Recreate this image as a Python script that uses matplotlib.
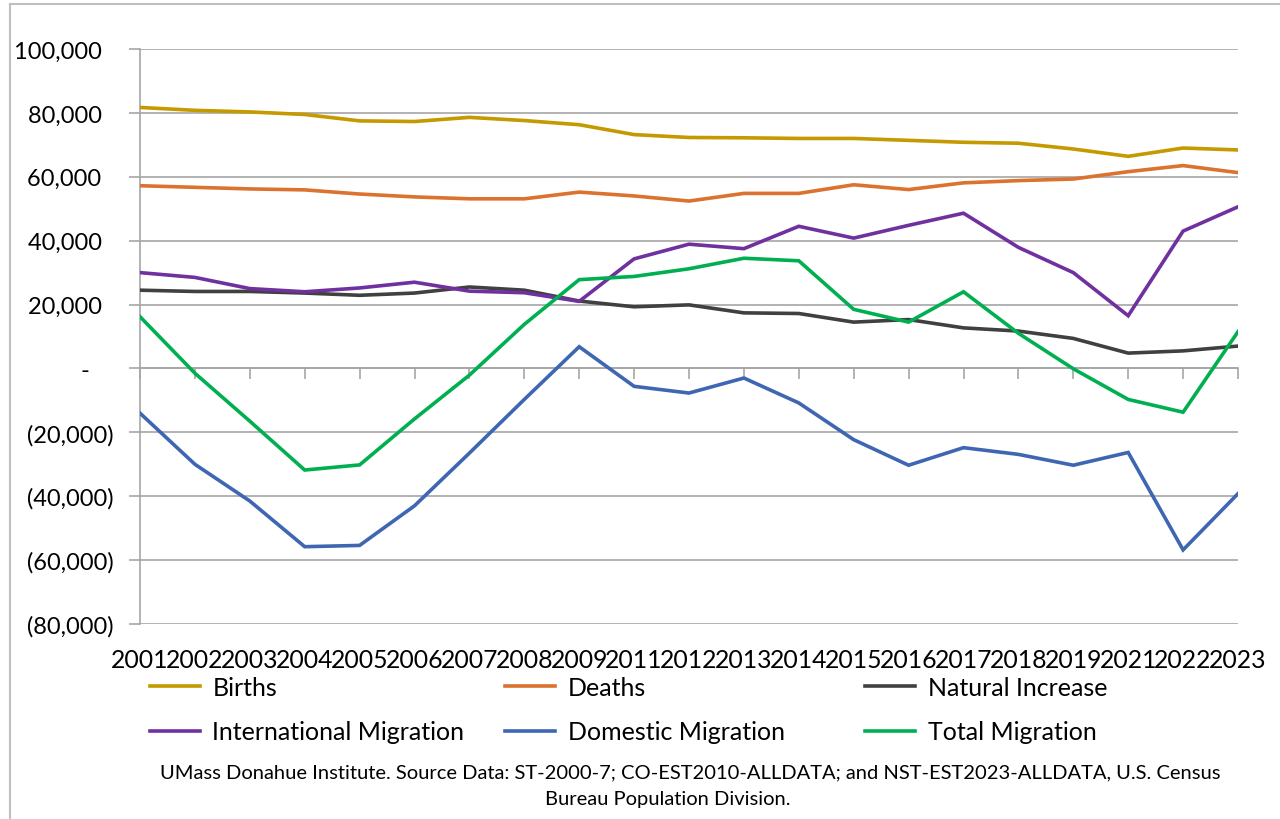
import matplotlib
matplotlib.use("Agg")
import matplotlib.pyplot as plt
from matplotlib.lines import Line2D
from matplotlib.ticker import FuncFormatter, FixedLocator

plt.rcParams['font.family'] = ['Lato', 'DejaVu Sans']

years = ["2001", "2002", "2003", "2004", "2005", "2006", "2007", "2008", "2009", "2011",
         "2012", "2013", "2014", "2015", "2016", "2017", "2018", "2019", "2021", "2022", "2023"]

births = [81700, 80800, 80300, 79500, 77500, 77300, 78600, 77600, 76300, 73200,
          72300, 72200, 72000, 72000, 71400, 70800, 70500, 68700, 66400, 69000, 68400]
deaths = [57200, 56700, 56200, 55900, 54600, 53700, 53100, 53100, 55200, 54000,
          52400, 54800, 54800, 57500, 56000, 58100, 58800, 59300, 61600, 63500, 61300]
natural_increase = [24500, 24100, 24100, 23600, 22900, 23600, 25500, 24500, 21100, 19300,
                    19900, 17400, 17200, 14500, 15300, 12700, 11700, 9400, 4800, 5500, 7000]
international = [30000, 28500, 25000, 24000, 25200, 27000, 24200, 23700, 21000, 34300,
                 38900, 37500, 44500, 40800, 44800, 48600, 37900, 30000, 16500, 43000, 50600]
domestic = [-14000, -30000, -41500, -55800, -55400, -43000, -26500, -9700, 6800, -5600,
            -7700, -3000, -10800, -22300, -30300, -24800, -26900, -30300, -26300, -56800, -39200]
total_migration = [16200, -1500, -16500, -31800, -30200, -15800, -2100, 13800, 27800, 28800,
                   31200, 34500, 33700, 18500, 14500, 24000, 11000, -100, -9700, -13700, 11500]

series = [
    ("Births", births, "#C49A00"),
    ("Deaths", deaths, "#DC7230"),
    ("Natural Increase", natural_increase, "#404040"),
    ("International Migration", international, "#7030A0"),
    ("Domestic Migration", domestic, "#3F66B2"),
    ("Total Migration", total_migration, "#00B050"),
]

W, H = 1280, 820
fig = plt.figure(figsize=(W / 100, H / 100), dpi=100)
ax = fig.add_axes([140 / W, 1 - 625 / H, (1238 - 140) / W, (625 - 50) / H])

x = list(range(len(years)))
lines = {}
for name, vals, col in series:
    ln, = ax.plot(x, vals, color=col, lw=2.6, solid_joinstyle='miter', zorder=3)
    lines[name] = ln

ymin, ymax = -80000, 100000
ax.set_ylim(ymin, ymax)
ax.set_xlim(0, len(years) - 1)
ax.set_yticks(range(ymin, ymax + 1, 20000))
ax.yaxis.grid(True, color="#A6A6A6", lw=1.2)
ax.set_axisbelow(True)


def yfmt(v, pos):
    if abs(v) < 1:
        return "-    "
    if v < 0:
        return "({:,.0f})".format(abs(v))
    return "{:,.0f}  ".format(v)


ax.yaxis.set_major_formatter(FuncFormatter(yfmt))
ax.tick_params(axis='y', length=8, color="#A6A6A6", width=1.2, labelsize=17, pad=11)
ax.set_xticks(x)
ax.set_xticklabels(years)
ax.tick_params(axis='x', length=0, labelsize=17.8, pad=17)
for s in ['top', 'right', 'bottom']:
    ax.spines[s].set_visible(False)
ax.spines['left'].set_color("#A6A6A6")
ax.spines['left'].set_linewidth(1.2)

# category axis drawn at y = 0 (labels stay low)
zero_loc = (0 - ymin) / (ymax - ymin)
sec = ax.secondary_xaxis(zero_loc)
sec.xaxis.set_major_locator(FixedLocator(x))
sec.tick_params(axis='x', length=8, color="#A6A6A6", width=1.2, labelbottom=False,
                direction='out')
sec.set_xticklabels([])
sec.spines['bottom'].set_color("#A6A6A6")
sec.spines['bottom'].set_linewidth(1.2)
for s in ['top', 'left', 'right']:
    sec.spines[s].set_visible(False)

# legend: three columns of two entries each
names = [s[0] for s in series]
cols = [[names[0], names[3]], [names[1], names[4]], [names[2], names[5]]]
col_x = [150, 505, 865]
for i, (cx, cnames) in enumerate(zip(col_x, cols)):
    leg = fig.legend([lines[n] for n in cnames], cnames, loc='upper left',
                     bbox_to_anchor=(cx / W, 1 - 677 / H), frameon=False,
                     fontsize=18, handlelength=2.0, handletextpad=0.5,
                     labelspacing=0.85, borderaxespad=0, borderpad=0)

fig.text(690 / W, 1 - 773 / H,
         "UMass Donahue Institute. Source Data: ST-2000-7; CO-EST2010-ALLDATA; and NST-EST2023-ALLDATA, U.S. Census",
         ha='center', va='center', fontsize=14.5)
fig.text(668 / W, 1 - 800 / H, "Bureau Population Division.",
         ha='center', va='center', fontsize=14.5)

# outer chart frame
fig.add_artist(Line2D([10 / W, 10 / W], [0, 1 - 5 / H], transform=fig.transFigure,
                      color="#BFBFBF", lw=1.5))
fig.add_artist(Line2D([10 / W, 1], [1 - 5 / H, 1 - 5 / H], transform=fig.transFigure,
                      color="#BFBFBF", lw=1.5))

fig.savefig("out.png", dpi=100)
